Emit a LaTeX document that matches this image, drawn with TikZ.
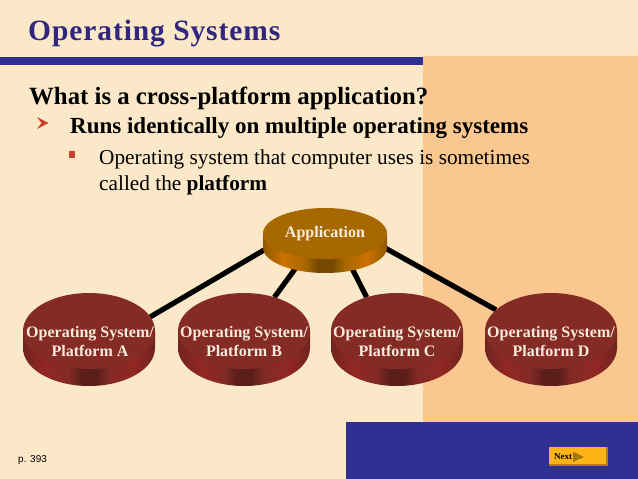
\documentclass[tikz,border=0pt]{standalone}
\usepackage{fontspec}
\setmainfont{Liberation Serif}
\newfontfamily\arialf{Liberation Sans}
\newfontfamily\titlef[LetterSpace=3.1]{Liberation Serif}
\usetikzlibrary{shapes.geometric,backgrounds}
\definecolor{cream}{HTML}{FAE8C8}
\definecolor{panel}{HTML}{F9C78F}
\definecolor{navy}{HTML}{2E3192}
\definecolor{titleblue}{HTML}{32267F}
\definecolor{appTop}{HTML}{A86800}
\definecolor{osTop}{HTML}{842B26}
\definecolor{bullet}{HTML}{C8402F}
\definecolor{btn}{HTML}{FDB515}
\definecolor{labelc}{HTML}{F8EBDC}
\pgfdeclarehorizontalshading{appside}{100bp}{
 color(0bp)=(appTop!85!black); color(25bp)=(appTop!85!black);
 color(33bp)=(orange!40!appTop); color(42bp)=(appTop);
 color(47bp)=(appTop!70!black); color(53bp)=(appTop!70!black);
 color(58bp)=(appTop); color(67bp)=(orange!40!appTop);
 color(75bp)=(appTop!85!black); color(100bp)=(appTop!85!black)}
\pgfdeclarehorizontalshading{osside}{100bp}{
 color(0bp)=(osTop!85!black); color(25bp)=(osTop!85!black);
 color(33bp)=(osTop!90!red); color(42bp)=(osTop);
 color(47bp)=(osTop!70!black); color(53bp)=(osTop!70!black);
 color(58bp)=(osTop); color(67bp)=(osTop!90!red);
 color(75bp)=(osTop!85!black); color(100bp)=(osTop!85!black)}
\tikzset{
 x=1pt,y=-1pt,
 line/.style={line width=5.2pt,black},
 appface/.style={ellipse,inner sep=0pt,outer sep=0pt,fill=appTop,minimum width=124pt,minimum height=51pt},
 osface/.style={ellipse,inner sep=0pt,outer sep=0pt,fill=osTop,minimum width=132pt,minimum height=76pt},
 applabel/.style={inner sep=0pt,text=labelc,font=\bfseries\fontsize{16}{18}\selectfont,align=center},
 oslabel/.style={inner sep=0pt,text=labelc,font=\bfseries\fontsize{16}{19}\selectfont,align=center},
 bodytext/.style={anchor=base west,inner sep=0pt},
}
\newcommand{\disksideapp}[2]{\path[shading=appside] (#1-62,#2) -- (#1-62,#2+14) arc[start angle=180,end angle=0,x radius=62pt,y radius=-25.5pt] -- (#1+62,#2) -- cycle;}
\newcommand{\diskside}[2]{\path[shading=osside] (#1-66,#2) -- (#1-66,#2+17) arc[start angle=180,end angle=0,x radius=66pt,y radius=-38pt] -- (#1+66,#2) -- cycle;}
\begin{document}
\begin{tikzpicture}
\useasboundingbox (0,0) rectangle (638,479);
\begin{pgfonlayer}{background}
\fill[cream] (0,0) rectangle (638,479);
\fill[panel] (423,56) rectangle (638,422);
\fill[navy] (345.5,422) rectangle (638,479);
\fill[navy] (0,56.5) rectangle (423,65);
\end{pgfonlayer}
% title and text
\node[bodytext,text=titleblue,font=\titlef\bfseries\fontsize{29.5}{30}\selectfont] (title) at (28,41) {Operating Systems};
\node[bodytext,font=\bfseries\fontsize{24.8}{25}\selectfont] (q) at (29,104) {What is a cross-platform application?};
\fill[bullet] (37,117) -- (48.5,123) -- (37,129) -- (41.5,123) -- cycle;
\node[bodytext,font=\bfseries\fontsize{23}{23}\selectfont] (l1) at (70,133) {Runs identically on multiple operating systems};
\fill[bullet] (68.5,151) rectangle (75,157.5);
\node[bodytext,font=\fontsize{21.3}{21}\selectfont] (l2) at (99,164) {Operating system that computer uses is sometimes};
\node[bodytext,font=\fontsize{21.3}{21}\selectfont] (l3) at (99,190) {called the \textbf{platform}};
% disks
\disksideapp{325}{233.5}
\diskside{89}{331}
\diskside{244}{331}
\diskside{397}{331}
\diskside{551}{331}
\node[appface] (app) at (325,233.5) {};
\node[osface] (osa) at (89,331) {};
\node[osface] (osb) at (244,331) {};
\node[osface] (osc) at (397,331) {};
\node[osface] (osd) at (551,331) {};
\node[applabel] (appt) at (325,234) {Application};
\node[oslabel] (osat) at (90,341.5) {Operating System/\\Platform A};
\node[oslabel] (osbt) at (244,341.5) {Operating System/\\Platform B};
\node[oslabel] (osct) at (397,341.5) {Operating System/\\Platform C};
\node[oslabel] (osdt) at (551,341.5) {Operating System/\\Platform D};
\begin{pgfonlayer}{background}
\draw[line] (app.193) -- (osa.13);
\draw[line] (app.228) -- (osb.48);
\draw[line] (app.312) -- (osc.132);
\draw[line] (app.348) -- (osd.159);
\end{pgfonlayer}
% footer
\node[bodytext,font=\arialf\fontsize{10}{10}\selectfont] (pg) at (18,462) {p. 393};
\fill[btn!70!black] (549,447) rectangle (608,466);
\fill[btn] (549,447) rectangle (606,464);
\node[bodytext,font=\bfseries\fontsize{9}{9}\selectfont] (nx) at (554,459) {Next};
\fill[btn!65!black] (573,451.5) -- (584,457) -- (573,462) -- cycle;
\end{tikzpicture}
\end{document}
